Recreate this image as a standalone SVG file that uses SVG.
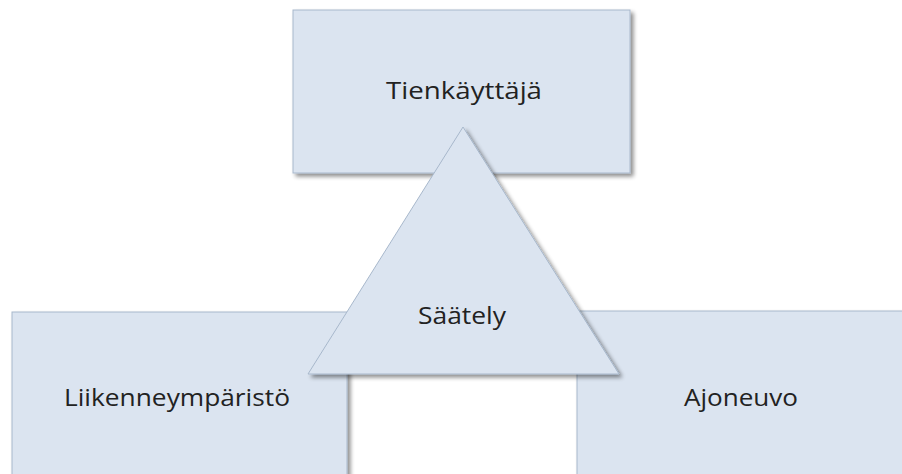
<svg xmlns="http://www.w3.org/2000/svg" width="902" height="474" viewBox="0 0 902 474">
<defs>
<filter id="sh" x="-10%" y="-10%" width="130%" height="130%">
<feGaussianBlur in="SourceAlpha" stdDeviation="2"/>
<feOffset dx="3" dy="3" result="b"/>
<feComponentTransfer><feFuncA type="linear" slope="0.45"/></feComponentTransfer>
<feMerge><feMergeNode/><feMergeNode in="SourceGraphic"/></feMerge>
</filter>
</defs>
<style>
.n{fill:#dbe4f0;stroke:#a8b8cc;stroke-width:1;filter:url(#sh)}
.t{font-family:"Open Sans","Noto Sans",sans-serif;font-size:24px;fill:#222;text-anchor:middle}
</style>
<rect width="902" height="474" fill="#fff"/>
<g id="tienkayttaja">
<rect class="n" x="293" y="10" width="337" height="163"/>
<text class="t" x="464" y="99" textLength="156" lengthAdjust="spacingAndGlyphs">Tienkäyttäjä</text>
</g>
<g id="liikenneymparisto">
<rect class="n" x="12" y="312" width="335" height="175"/>
<text class="t" x="177" y="406" textLength="226" lengthAdjust="spacingAndGlyphs">Liikenneympäristö</text>
</g>
<g id="ajoneuvo">
<rect class="n" x="577" y="311" width="340" height="175"/>
<text class="t" x="741" y="406" textLength="114" lengthAdjust="spacingAndGlyphs">Ajoneuvo</text>
</g>
<g id="saately">
<polygon class="n" points="463,127 308,374 619,374"/>
<text class="t" x="462" y="324" textLength="88" lengthAdjust="spacingAndGlyphs">Säätely</text>
</g>
<g id="connectors"/>
</svg>
